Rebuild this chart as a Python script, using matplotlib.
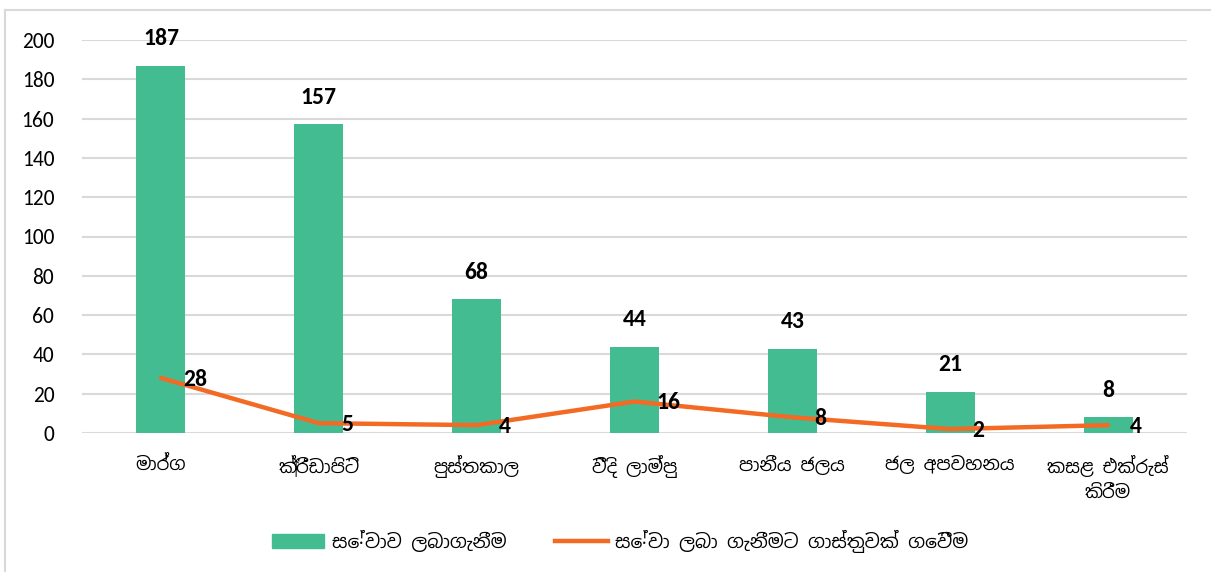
import matplotlib
matplotlib.use("Agg")
import matplotlib.pyplot as plt
from matplotlib.lines import Line2D
import numpy as np
import logging
logging.getLogger('matplotlib.font_manager').setLevel(logging.ERROR)

categories = ["මාර්ග", "ක්‍රීඩාපිටි", "පුස්තකාල", "වීදි ලාම්පු",
              "පානීය ජලය", "ජල අපවහනය", "කසළ එක්රැස්\nකිරීම"]
service_obtained = [187, 157, 68, 44, 43, 21, 8]
fee_paid = [28, 5, 4, 16, 8, 2, 4]
series_names = ["සේවාව ලබාගැනීම", "සේවා ලබා ගැනීමට ගාස්තුවක් ගෙවීම"]
yticks = [0, 20, 40, 60, 80, 100, 120, 140, 160, 180, 200]

NUM_FONT = ["Carlito", "Lato", "DejaVu Sans"]
SI_FONT = ["Noto Sans Sinhala", "DejaVu Sans"]
plt.rcParams['font.family'] = NUM_FONT

GREEN = "#43BC92"
ORANGE = "#F26A23"
GRID = "#D9D9D9"

fig = plt.figure(figsize=(12.11, 5.72), dpi=100)
ax = fig.add_axes([82/1211, 1-433/572, (1187-82)/1211, (433-40)/572])

x = np.arange(len(categories))
ax.bar(x, service_obtained, width=0.31, color=GREEN, zorder=2, label=series_names[0])
ax.plot(x, fee_paid, color=ORANGE, lw=3.2, solid_capstyle='round', zorder=3, label=series_names[1])

for xi, v in zip(x, service_obtained):
    ax.annotate(str(v), (xi, v), xytext=(0, 12), textcoords='offset points',
                ha='center', va='bottom', fontsize=17, fontweight='bold', zorder=5)
for xi, v in zip(x, fee_paid):
    ax.annotate(str(v), (xi, v), xytext=(16, -1), textcoords='offset points',
                ha='left', va='center', fontsize=17, fontweight='bold', zorder=5)

ax.set_xlim(-0.5, len(categories) - 0.5)
ax.set_ylim(0, 200)
ax.set_yticks(yticks)
ax.set_yticklabels([str(t) for t in yticks], fontsize=15.5)
ax.set_xticks(x)
ax.set_xticklabels(categories, family=SI_FONT, fontsize=13, linespacing=1.5)
ax.tick_params(axis='both', length=0)
ax.tick_params(axis='y', pad=20)
ax.tick_params(axis='x', pad=16)
for s in ax.spines.values():
    s.set_visible(False)
ax.grid(axis='y', color=GRID, lw=1.5, zorder=0)
ax.set_axisbelow(True)

handles = [plt.Rectangle((0, 0), 1, 1, color=GREEN),
           Line2D([0], [0], color=ORANGE, lw=3.2)]
fig.legend(handles, series_names, loc='center', bbox_to_anchor=(620/1211, 1-541/572),
           ncol=2, frameon=False, prop={'family': SI_FONT, 'size': 13.5},
           handlelength=2.8, handleheight=0.7, handletextpad=0.4, columnspacing=2.6)

# chart border (partial, as in reference)
fig.add_artist(Line2D([5/1211, 1], [1-10/572, 1-10/572], color=GRID, lw=1.5, transform=fig.transFigure))
fig.add_artist(Line2D([5/1211, 5/1211], [0, 1-10/572], color=GRID, lw=1.5, transform=fig.transFigure))

fig.savefig("out.png", dpi=100)
